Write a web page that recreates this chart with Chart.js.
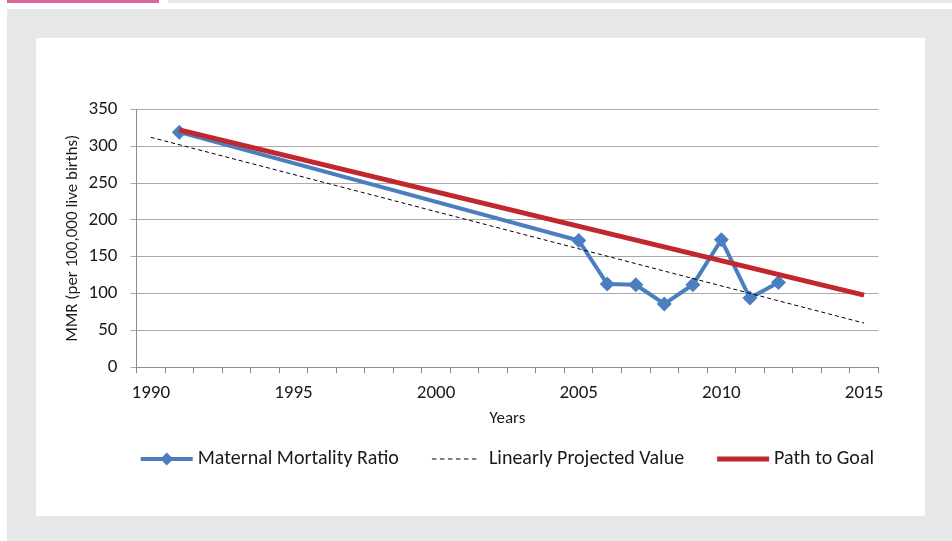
<!DOCTYPE html>
<html>
<head>
<meta charset="utf-8">
<script src="https://cdn.jsdelivr.net/npm/chart.js@4/dist/chart.umd.min.js"></script>
<style>
  html, body { margin: 0; padding: 0; background: #ffffff; }
  body { width: 952px; height: 541px; position: relative; overflow: hidden; }
  .accent { position: absolute; left: 7px; top: 0; width: 152px; height: 3px; background: #df649d; }
  .strip { position: absolute; left: 168px; top: 0; right: 0; height: 3px; background: #e6e7e8; }
  .panel { position: absolute; left: 7px; top: 9px; right: 0; bottom: 0; background: #e6e7e8; }
  .card { position: absolute; left: 36px; top: 38px; width: 889px; height: 478px; background: #ffffff; }
  canvas { display: block; }
</style>
</head>
<body>
<div class="accent"></div>
<div class="strip"></div>
<div class="panel"></div>
<div class="card"><canvas id="chart" width="889" height="478"></canvas></div>
<script>
// Categories: one per year on the horizontal axis
const years = ['1990','1991','1992','1993','1994','1995','1996','1997','1998','1999',
               '2000','2001','2002','2003','2004','2005','2006','2007','2008','2009',
               '2010','2011','2012','2013','2014','2015'];

// Observed maternal mortality ratio (per 100,000 live births)
const mmrObserved = [null, 319, null, null, null, null, null, null, null, null,
                     null, null, null, null, null, 172, 113, 112, 86, 112,
                     173, 94, 115, null, null, null];

// Linear projection end points
const mmrProjected = [312, null, null, null, null, null, null, null, null, null,
                      null, null, null, null, null, null, null, null, null, null,
                      null, null, null, null, null, 60];

// Target path end points
const mmrGoalPath = [null, 322, null, null, null, null, null, null, null, null,
                     null, null, null, null, null, null, null, null, null, null,
                     null, null, null, null, null, 98];

// Years that carry a label on the axis
const labelledYears = ['1990', '1995', '2000', '2005', '2010', '2015'];

const FONT = 'Carlito, Lato, "Open Sans", sans-serif';
const BLUE = '#4a7ebf';
const RED = '#c1272d';
const AXIS = '#8c8c8c';
const GRID = '#a9a9a9';
const TEXT = '#1a1a1a';

// Legend drawn below the axis: line samples with marker, centred on the plot
const bottomLegend = {
  id: 'bottomLegend',
  afterDraw(chart) {
    const ctx = chart.ctx;
    const area = chart.chartArea;
    const sampleW = 52, gap = 5, spacing = 33, y = 421;
    ctx.save();
    ctx.font = '20px ' + FONT;
    ctx.textBaseline = 'middle';
    ctx.fillStyle = TEXT;
    const items = chart.data.datasets.map(ds => ({ ds, w: sampleW + gap + ctx.measureText(ds.label).width }));
    const total = items.reduce((s, it) => s + it.w, 0) + spacing * (items.length - 1);
    let x = (area.left + area.right) / 2 - total / 2;
    items.forEach(({ ds, w }) => {
      ctx.save();
      ctx.strokeStyle = ds.borderColor;
      ctx.lineWidth = ds.borderWidth;
      ctx.setLineDash(ds.borderDash ? [4.5, 3.5] : []);
      ctx.beginPath();
      ctx.moveTo(x, y);
      ctx.lineTo(x + (ds.borderDash ? 46 : sampleW), y);
      ctx.stroke();
      if (ds.pointRadius > 0) {
        const cx = x + sampleW / 2, r = ds.pointRadius - 1;
        ctx.setLineDash([]);
        ctx.fillStyle = ds.pointBackgroundColor;
        ctx.beginPath();
        ctx.moveTo(cx, y - r);
        ctx.lineTo(cx + r, y);
        ctx.lineTo(cx, y + r);
        ctx.lineTo(cx - r, y);
        ctx.closePath();
        ctx.fill();
      }
      ctx.restore();
      ctx.fillText(ds.label, x + sampleW + gap, y);
      x += w + spacing;
    });
    ctx.restore();
  }
};

new Chart(document.getElementById('chart'), {
  type: 'line',
  data: {
    labels: years,
    datasets: [
      {
        label: 'Maternal Mortality Ratio',
        data: mmrObserved,
        borderColor: BLUE,
        borderWidth: 4,
        pointStyle: 'rectRot',
        pointRadius: 7.5,
        pointBackgroundColor: BLUE,
        pointBorderWidth: 0,
        spanGaps: true,
        order: 2
      },
      {
        label: 'Linearly Projected Value',
        data: mmrProjected,
        borderColor: '#000000',
        borderWidth: 1,
        borderDash: [4, 3],
        pointRadius: 0,
        spanGaps: true,
        order: 1
      },
      {
        label: 'Path to Goal',
        data: mmrGoalPath,
        borderColor: RED,
        borderWidth: 5,
        pointRadius: 0,
        spanGaps: true,
        order: 0
      }
    ]
  },
  options: {
    responsive: false,
    animation: false,
    devicePixelRatio: 1,
    layout: { padding: { left: 0, top: 71.3, right: 46.7, bottom: 82.8 } },
    plugins: { legend: { display: false }, tooltip: { enabled: false } },
    scales: {
      x: {
        type: 'category',
        offset: true,
        grid: { display: true, drawOnChartArea: false, drawTicks: true, tickLength: 6, color: AXIS, offset: true },
        border: { color: AXIS, width: 1 },
        ticks: {
          autoSkip: false,
          maxRotation: 0,
          padding: 9,
          color: TEXT,
          font: { family: FONT, size: 19 },
          callback(value) {
            const lbl = this.getLabelForValue(value);
            return labelledYears.includes(lbl) ? lbl : '';
          }
        },
        title: { display: true, text: 'Years', color: TEXT, font: { family: FONT, size: 17 }, padding: { top: 4, bottom: 4 } },
        afterFit(scale) { scale.height = 65.9; }
      },
      y: {
        min: 0,
        max: 350,
        grid: { color: GRID, tickLength: 6, drawTicks: true },
        border: { color: AXIS, width: 1 },
        ticks: { stepSize: 50, padding: 13, color: TEXT, font: { family: FONT, size: 19 } },
        title: { display: true, text: 'MMR (per 100,000 live births)', color: TEXT, font: { family: FONT, size: 17 }, padding: { top: 26.8, bottom: 0 } },
        afterFit(scale) { scale.width = 100.5; }
      }
    }
  },
  plugins: [bottomLegend]
});
</script>
</body>
</html>
